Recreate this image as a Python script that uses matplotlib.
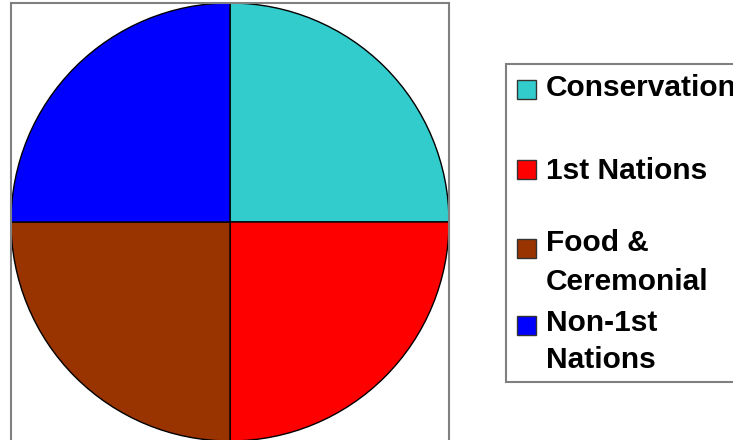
import matplotlib
matplotlib.use("Agg")
import matplotlib.pyplot as plt
from matplotlib.patches import Rectangle

categories = ["Conservation", "1st Nations", "Food &\nCeremonial", "Non-1st\nNations"]
values = [25, 25, 25, 25]
colors = ["#33CCCC", "#FF0000", "#993300", "#0000FF"]

W, H = 733, 440

def fx(px):
    return px / W

def fy(py):
    return 1 - py / H

fig = plt.figure(figsize=(W / 100, H / 100), dpi=100)

# plot area: pixels x 11..449, y 3..447 (runs off the bottom)
ax = fig.add_axes([fx(11), fy(447), (449 - 11) / W, (447 - 3) / H])
ax.pie(values, colors=colors, startangle=90, counterclock=False,
       wedgeprops=dict(edgecolor="black", linewidth=1.0), radius=1.0)
ax.axis("on")
ax.set_frame_on(True)
ax.set_aspect("auto")
ax.set_xlim(-1, 1)
ax.set_ylim(-(447 - 222) / 219, (222 - 3) / 219)
for s in ax.spines.values():
    s.set_visible(True)
    s.set_edgecolor("#808080")
    s.set_linewidth(1.5)
ax.set_xticks([])
ax.set_yticks([])

# legend drawn by hand so the swatch sits on the first text line
fig.patches.append(Rectangle((fx(506), fy(382)), (740 - 506) / W, (382 - 64) / H,
                             transform=fig.transFigure, facecolor="white",
                             edgecolor="#808080", linewidth=1.5))
swatch_y = [89.5, 169, 248, 325]
line_y = [[88], [171], [243, 282], [323, 360]]
for cat, col, sy, ly in zip(categories, colors, swatch_y, line_y):
    fig.patches.append(Rectangle((fx(517), fy(sy + 9.5)), 19 / W, 19 / H,
                                 transform=fig.transFigure, facecolor=col,
                                 edgecolor="#333333", linewidth=1.0))
    for line, y in zip(cat.split("\n"), ly):
        fig.text(fx(546), fy(y), line, ha="left", va="center",
                 fontsize=21.5, fontweight="bold", family="Liberation Sans")

fig.savefig("out.png", dpi=100)
